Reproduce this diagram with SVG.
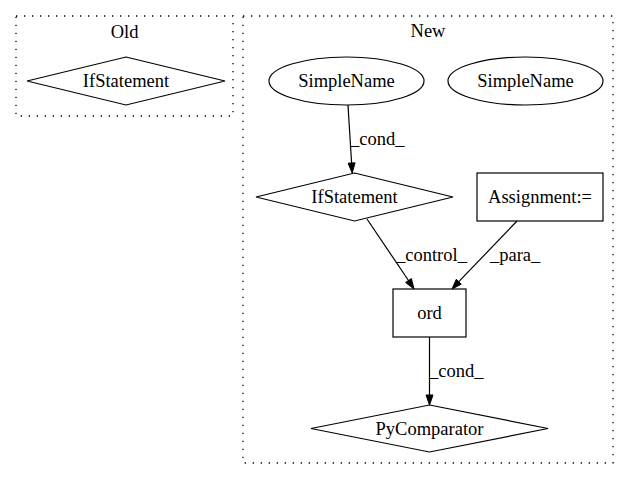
<svg xmlns="http://www.w3.org/2000/svg" width="629" height="480" viewBox="0 0 629 480">
<style>
text{font-family:"Liberation Serif","Times New Roman",serif;font-size:18.5px;fill:#000;text-anchor:middle}
.cl{fill:none;stroke:#000;stroke-width:1.3;stroke-dasharray:1.3,6.7}
.n{fill:none;stroke:#000;stroke-width:1.2}
.e{fill:none;stroke:#000;stroke-width:1.2}
.ah{fill:#000;stroke:#000;stroke-width:1}
.lbl{text-anchor:start}
</style>
<rect width="629" height="480" fill="#fff"/>
<g id="cluster_old">
<rect class="cl" x="16" y="16" width="217" height="100"/>
<text x="124.5" y="38">Old</text>
</g>
<g id="cluster_new">
<rect class="cl" x="243" y="16" width="370" height="447"/>
<text x="428" y="37">New</text>
</g>
<g id="old_ifstatement">
<polygon class="n" points="126,57 225,81 126,105 27,81"/>
<text x="126" y="87">IfStatement</text>
</g>
<g id="simplename1">
<ellipse class="n" cx="346.5" cy="81" rx="77.5" ry="24"/>
<text x="346.5" y="87">SimpleName</text>
</g>
<g id="simplename2">
<ellipse class="n" cx="525.5" cy="81" rx="77.5" ry="24"/>
<text x="525.5" y="87">SimpleName</text>
</g>
<g id="new_ifstatement">
<polygon class="n" points="354.5,173 453,197 354.5,221 256,197"/>
<text x="354.5" y="203">IfStatement</text>
</g>
<g id="assignment">
<rect class="n" x="477" y="173" width="126" height="48"/>
<text x="540" y="203">Assignment:=</text>
</g>
<g id="ord">
<rect class="n" x="393" y="289" width="73" height="48"/>
<text x="429.5" y="319">ord</text>
</g>
<g id="pycomparator">
<polygon class="n" points="429.5,405 548,428.5 429.5,452 311,428.5"/>
<text x="429.5" y="434.5">PyComparator</text>
</g>
<g id="connectors">
<path class="e" d="M348,105 L351.6,163"/>
<polygon class="ah" points="348.1,163.2 352.2,173 355.1,162.8"/>
<text class="lbl" x="350" y="145">_cond_</text>
<path class="e" d="M367,219 L408.5,280.5"/>
<polygon class="ah" points="405.6,282.5 414,289 411.4,278.6"/>
<text class="lbl" x="396" y="261">_control_</text>
<path class="e" d="M517,221 L458.8,281.7"/>
<polygon class="ah" points="456.3,279.3 452,289 461.3,284.2"/>
<text class="lbl" x="490" y="261">_para_</text>
<path class="e" d="M429.5,337 L429.5,395"/>
<polygon class="ah" points="426,395 429.5,405 433,395"/>
<text class="lbl" x="429" y="377">_cond_</text>
</g>
</svg>
